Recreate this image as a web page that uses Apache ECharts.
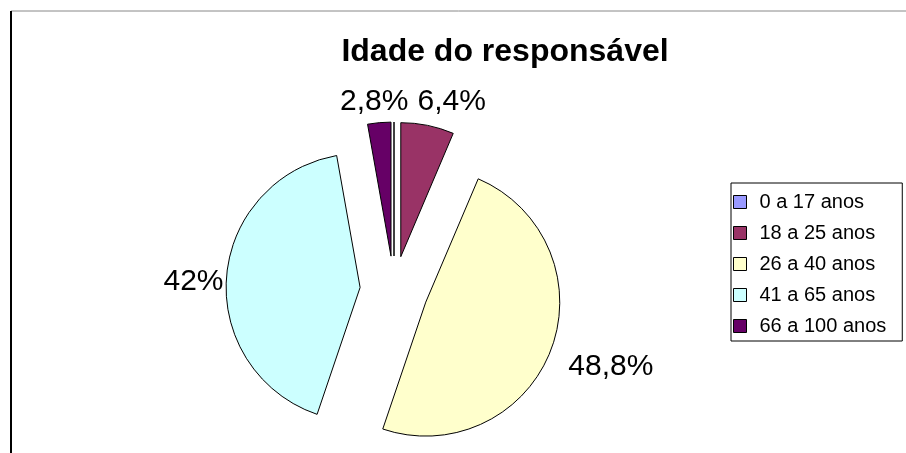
<!DOCTYPE html>
<html>
<head>
<meta charset="utf-8">
<script src="https://cdn.jsdelivr.net/npm/echarts@6/dist/echarts.min.js"></script>
<style>
  html, body { margin: 0; padding: 0; background: #fff; }
  #chart { width: 906px; height: 453px; }
</style>
</head>
<body>
<div id="chart"></div>
<script>
// faixas etarias e percentuais
var categories = ['0 a 17 anos', '18 a 25 anos', '26 a 40 anos', '41 a 65 anos', '66 a 100 anos'];
var values = [0, 6.4, 48.8, 42, 2.8];
var colors = ['#9999FF', '#993366', '#FFFFCC', '#CCFFFF', '#660066'];
// ajuste fino dos rotulos (dx, dy)
var labelNudge = [[0, 0], [-17, -14], [3, 13], [12, 5], [35, -11]];

function fmt(v) {
    return String(v).replace('.', ',') + '%';
}

function idade_chart() {
    var chart = echarts.init(document.getElementById('chart'));

    var pieData = [];
    for (var i = 0; i < categories.length; i++) {
        pieData.push({
            name: categories[i],
            value: values[i],
            selected: true,
            itemStyle: { color: colors[i] }
        });
    }

    var option = {
        animation: false,
        backgroundColor: '#fff',
        title: {
            text: 'Idade do responsável',
            left: 500,
            top: 31,
            textAlign: 'center',
            textStyle: {
                fontFamily: 'Liberation Sans, Arial, sans-serif',
                fontSize: 32,
                fontWeight: 'bold',
                color: '#000'
            }
        },
        legend: {
            orient: 'vertical',
            left: 731,
            top: 183,
            padding: [9, 16, 5, 2],
            itemGap: 11,
            itemWidth: 13,
            itemHeight: 13,
            icon: 'rect',
            borderColor: '#000',
            borderWidth: 1,
            borderRadius: 0,
            selectedMode: false,
            itemStyle: { borderColor: '#000', borderWidth: 1 },
            textStyle: {
                fontFamily: 'Liberation Sans, Arial, sans-serif',
                fontSize: 20,
                lineHeight: 20,
                color: '#000',
                padding: [0, 0, 0, 8]
            },
            data: categories
        },
        graphic: [
            { type: 'line', shape: { x1: 11, y1: 11, x2: 906, y2: 11 }, style: { stroke: '#888', lineWidth: 1 } },
            { type: 'line', shape: { x1: 11, y1: 11, x2: 11, y2: 453 }, style: { stroke: '#000', lineWidth: 2 } }
        ],
        series: [{
            type: 'pie',
            center: [394, 290],
            radius: 134,
            startAngle: 90,
            clockwise: true,
            selectedMode: 'multiple',
            selectedOffset: 34,
            avoidLabelOverlap: false,
            emphasis: { disabled: true },
            itemStyle: { borderColor: '#000', borderWidth: 1 },
            label: {
                show: true,
                position: 'outside',
                distanceToLabelLine: 5,
                fontFamily: 'Liberation Sans, Arial, sans-serif',
                fontSize: 30,
                color: '#000',
                formatter: function (p) {
                    return p.value === 0 ? '' : fmt(p.value);
                }
            },
            labelLine: { show: false, length: 10, length2: 0 },
            labelLayout: function (p) {
                var n = labelNudge[p.dataIndex];
                return { dx: n[0], dy: n[1] };
            },
            data: pieData
        }]
    };
    chart.setOption(option);
}

idade_chart();
</script>
</body>
</html>
